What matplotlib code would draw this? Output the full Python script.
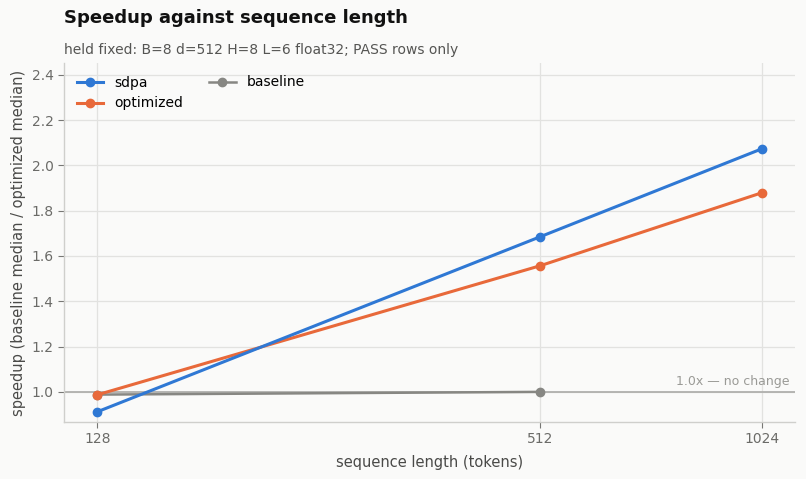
import numpy as np
import matplotlib.pyplot as plt

seq_len = [128, 512, 1024]
sdpa = [0.912, 1.685, 2.073]
optimized = [0.987, 1.557, 1.879]
baseline_len = [128, 512]
baseline = [0.988, 1.0]

bg = "#fafaf9"
fig = plt.figure(figsize=(8.06, 4.79), dpi=100, facecolor=bg)
ax = fig.add_axes([64/806, 1 - 422/479, (795-64)/806, (422-63)/479])
ax.set_facecolor(bg)

ax.axhline(1.0, color="#b0b0ad", lw=1.3, zorder=1)
ax.text(0.993, 1.018, "1.0x \u2014 no change", color="#9a9a96", fontsize=9,
        ha="right", va="bottom", transform=ax.get_yaxis_transform())

ax.plot(seq_len, sdpa, "o-", color="#2f78d4", lw=2.2, ms=6, label="sdpa", zorder=4)
ax.plot(seq_len, optimized, "o-", color="#e8693a", lw=2.2, ms=6, label="optimized", zorder=3)
ax.plot(baseline_len, baseline, "o-", color="#878783", lw=1.8, ms=6, label="baseline", zorder=2)

ax.set_xscale("log", base=2)
ax.set_xticks(seq_len)
ax.set_xticklabels([str(s) for s in seq_len])
ax.minorticks_off()
ax.set_ylim(0.867, 2.452)
ax.set_yticks(np.arange(1.0, 2.41, 0.2))

ax.grid(True, color="#e2e2e0", lw=0.9)
ax.set_axisbelow(True)
for s in ["top", "right"]:
    ax.spines[s].set_visible(False)
for s in ["left", "bottom"]:
    ax.spines[s].set_color("#cfcfcc")
    ax.spines[s].set_linewidth(1.0)
ax.tick_params(colors="#777774", labelsize=10, length=4, width=0.8)
ax.tick_params(axis="both", labelcolor="#6b6b68")

ax.set_xlabel("sequence length (tokens)", fontsize=10.5, color="#4a4a48", labelpad=6)
ax.set_ylabel("speedup (baseline median / optimized median)", fontsize=10.5, color="#4a4a48", labelpad=4)

ax.legend(ncol=2, loc="upper left", frameon=False, fontsize=10, handlelength=1.9,
          columnspacing=1.9, borderaxespad=0.5, bbox_to_anchor=(0.0, 1.0))

fig.text(64/806, 1 - 18/479, "Speedup against sequence length", fontsize=13,
         fontweight="bold", color="#111111", ha="left", va="center")
fig.text(64/806, 1 - 50/479, "held fixed: B=8 d=512 H=8 L=6 float32; PASS rows only",
         fontsize=10, color="#555553", ha="left", va="center")

fig.savefig("out.png", dpi=100, facecolor=bg)
